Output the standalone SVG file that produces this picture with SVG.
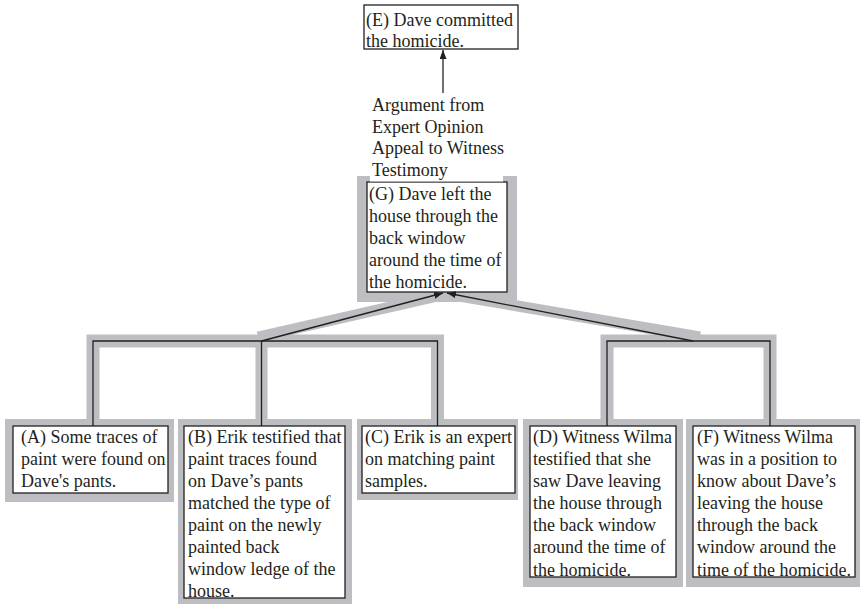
<svg xmlns="http://www.w3.org/2000/svg" width="860" height="604" viewBox="0 0 860 604">
<style>
.band{fill:none;stroke:#bdbec1;stroke-linejoin:miter;stroke-linecap:butt}
.frame{fill:#bdbec1;stroke:none}
.box{fill:#fff;stroke:#231f20;stroke-width:1.3}
.ln{fill:none;stroke:#231f20;stroke-width:1.3}
text{font-family:"Liberation Serif","Times New Roman",serif;font-size:18px;fill:#231f20}
</style>
<defs>
<marker id="ah" markerUnits="userSpaceOnUse" markerWidth="10" markerHeight="8" refX="9" refY="3.5" orient="auto">
<path d="M0,0 L9,3.5 L0,7 z" fill="#231f20"/>
</marker>
</defs>
<rect width="860" height="604" fill="#fff"/>

<g id="connectors-bg">
<polyline class="band" stroke-width="13" points="93,420 93,341 437.5,341 437.5,420"/>
<line class="band" stroke-width="12" x1="261.5" y1="341" x2="261.5" y2="420"/>
<polyline class="band" stroke-width="13" points="607,420 607,341 770,341 770,420"/>
<line class="band" stroke-width="11" x1="258" y1="337" x2="447" y2="294"/>
<line class="band" stroke-width="11" x1="700" y1="337" x2="447" y2="294"/>
</g>

<g id="node-G">
<rect class="frame" x="357" y="176" width="160" height="126"/>
<rect class="box" x="367" y="182" width="140" height="110"/>
<text x="369" y="200">(G) Dave left the</text>
<text x="369" y="222">house through the</text>
<text x="369" y="244">back window</text>
<text x="369" y="266">around the time of</text>
<text x="369" y="288">the homicide.</text>
</g>

<g id="label-argument">
<rect x="370" y="94" width="133" height="87.5" fill="#fff"/>
<text x="372" y="111">Argument from</text>
<text x="372" y="132.5">Expert Opinion</text>
<text x="372" y="154">Appeal to Witness</text>
<text x="372" y="175.5">Testimony</text>
</g>

<g id="node-E">
<rect class="box" x="364" y="5" width="154" height="44"/>
<text x="366" y="26">(E) Dave committed</text>
<text x="366" y="46.5">the homicide.</text>
</g>

<g id="node-A">
<rect class="frame" x="5" y="419" width="169" height="83"/>
<rect class="box" x="13" y="426" width="155" height="67"/>
<text x="21" y="443">(A) Some traces of</text>
<text x="21" y="465">paint were found on</text>
<text x="21" y="487">Dave's pants.</text>
</g>

<g id="node-B">
<rect class="frame" x="178" y="419" width="174" height="190"/>
<rect class="box" x="184" y="426" width="161" height="172"/>
<text x="188" y="443">(B) Erik testified that</text>
<text x="188" y="465">paint traces found</text>
<text x="188" y="487">on Dave’s pants</text>
<text x="188" y="509">matched the type of</text>
<text x="188" y="531">paint on the newly</text>
<text x="188" y="553">painted back</text>
<text x="188" y="575">window ledge of the</text>
<text x="188" y="597">house.</text>
</g>

<g id="node-C">
<rect class="frame" x="357" y="419" width="161" height="81"/>
<rect class="box" x="362" y="426" width="153" height="67"/>
<text x="365" y="443">(C) Erik is an expert</text>
<text x="365" y="465">on matching paint</text>
<text x="365" y="487">samples.</text>
</g>

<g id="node-D">
<rect class="frame" x="523" y="419" width="160" height="168"/>
<rect class="box" x="530" y="426" width="146" height="151"/>
<text x="533" y="443">(D) Witness Wilma</text>
<text x="533" y="465">testified that she</text>
<text x="533" y="487">saw Dave leaving</text>
<text x="533" y="509">the house through</text>
<text x="533" y="531">the back window</text>
<text x="533" y="553">around the time of</text>
<text x="533" y="575.5">the homicide.</text>
</g>

<g id="node-F">
<rect class="frame" x="686" y="419" width="174" height="168"/>
<rect class="box" x="693" y="426" width="162" height="151"/>
<text x="697" y="443">(F) Witness Wilma</text>
<text x="697" y="465">was in a position to</text>
<text x="697" y="487">know about Dave’s</text>
<text x="697" y="509">leaving the house</text>
<text x="697" y="531">through the back</text>
<text x="697" y="553">window around the</text>
<text x="697" y="575.5">time of the homicide.</text>
</g>

<g id="connectors">
<polyline class="ln" points="93,426 93,341 437.5,341 437.5,426"/>
<line class="ln" x1="261.5" y1="341" x2="261.5" y2="426"/>
<polyline class="ln" points="607,426 607,341 770,341 770,426"/>
<line class="ln" x1="261.5" y1="341" x2="443" y2="293" marker-end="url(#ah)"/>
<line class="ln" x1="693" y1="341" x2="447" y2="293" marker-end="url(#ah)"/>
<line class="ln" x1="443" y1="93" x2="443" y2="50" marker-end="url(#ah)"/>
</g>
</svg>
